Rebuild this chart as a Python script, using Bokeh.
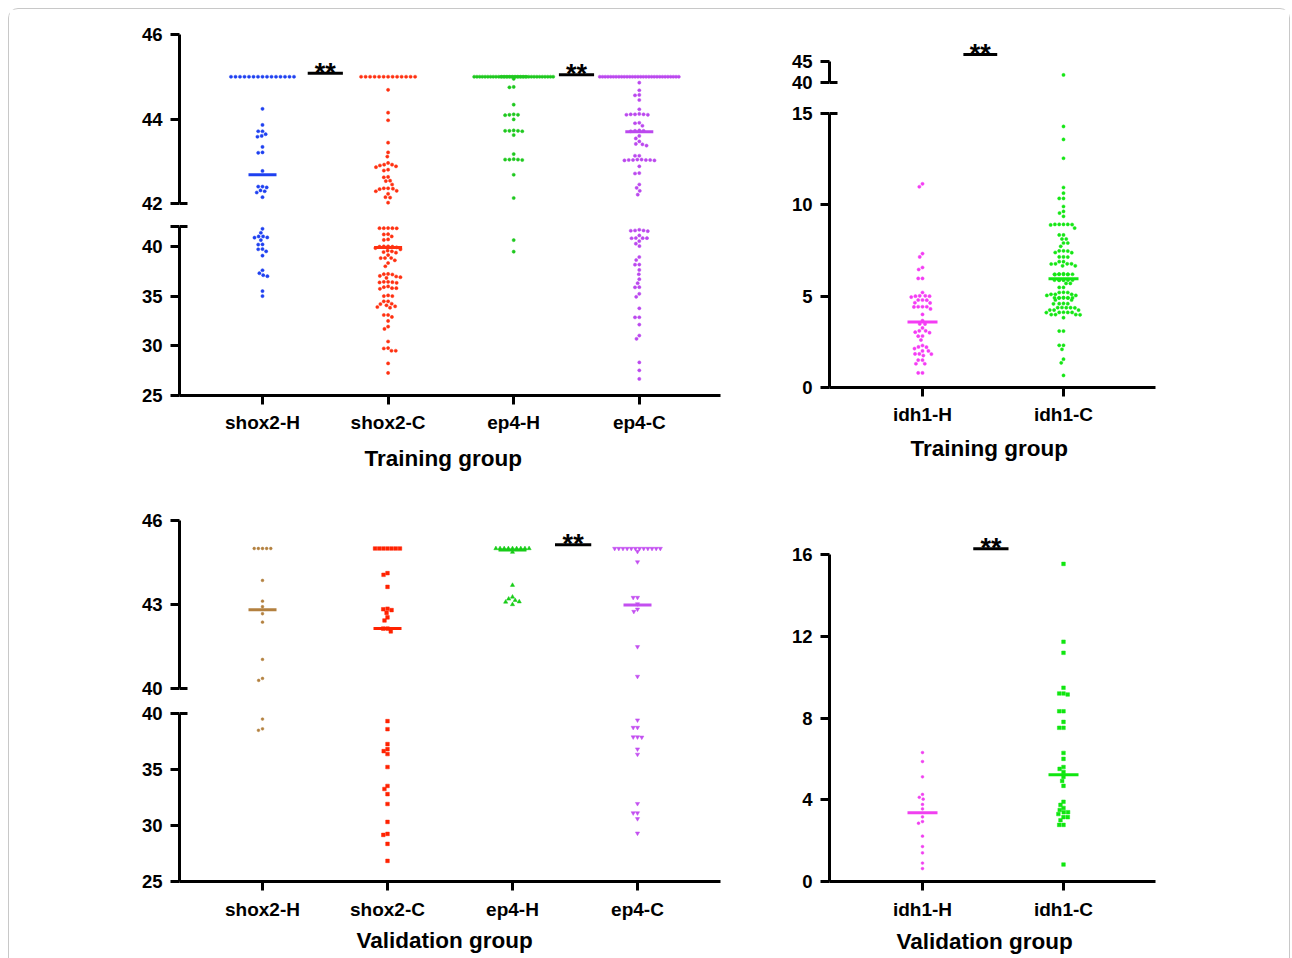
import math
from collections import Counter
from bokeh.plotting import figure
from bokeh.models import Range1d, LinearAxis, FixedTicker, Title
from bokeh.layouts import column, row
from bokeh.embed import file_html
from bokeh.resources import INLINE
from bokeh.core.properties import value

FONT = "Liberation Sans"

# ---------------- data ----------------
TRAIN_CATS = ["shox2-H", "shox2-C", "ep4-H", "ep4-C"]
IDH_CATS = ["idh1-H", "idh1-C"]
TRAIN_TITLE = "Training group"
VALID_TITLE = "Validation group"

train_shox2_h = [45, 45, 45, 45, 45, 45, 45, 45, 45, 45, 45, 45, 45, 45, 45,
                 44.24, 43.86, 43.71, 43.71, 43.64, 43.60, 43.58, 43.34, 43.21, 43.20,
                 42.77, 42.40, 42.40, 42.38, 42.31, 42.29, 42.26, 42.15,
                 41.77, 41.37, 41.00, 41.00, 40.90, 40.88, 40.63, 40.20, 40.18, 39.73,
                 39.71, 39.50, 39.07, 37.60, 37.30, 37.10, 37.00, 35.50, 35.00]
train_shox2_c = [45, 45, 45, 45, 45, 45, 45, 45, 45, 45, 45, 45, 45,
                 44.69, 44.15, 43.97, 43.44, 43.21, 43.11, 42.96, 42.92, 42.92, 42.90,
                 42.88, 42.86, 42.80, 42.78, 42.63, 42.62, 42.54, 42.53, 42.45, 42.36,
                 42.36, 42.35, 42.34, 42.30, 42.29, 42.23, 42.15, 42.14, 42.02,
                 41.83, 41.83, 41.82, 41.83, 41.84, 41.20, 41.23, 41.00, 40.70, 40.65,
                 40.00, 39.97, 40.00, 39.90, 39.97, 39.83, 39.70, 39.50, 39.37, 39.43,
                 39.57, 39.13, 38.83, 38.83, 38.82, 38.60, 38.33, 38.00,
                 37.20, 37.23, 37.03, 37.17, 36.97, 36.83, 36.90, 36.43, 36.33, 36.37,
                 36.43, 36.40, 35.90, 35.73, 35.97, 35.80, 35.80, 35.00, 35.00, 35.07,
                 34.23, 34.07, 34.47, 34.47, 34.20, 33.90, 33.83, 33.97, 33.10, 33.10,
                 32.90, 32.50, 31.93, 31.70, 30.43, 29.73, 29.50, 29.50, 29.77, 28.23, 27.27]
train_ep4_h = [45, 45, 45, 45, 45, 45, 45, 45, 45, 45, 45, 45, 45, 45, 45,
               45, 45, 45, 45, 45, 45, 45, 45, 45, 45, 45, 45, 45, 45, 45,
               44.95, 44.76, 44.75, 44.34, 44.10, 44.10, 44.09, 44.11, 43.99, 43.72,
               43.72, 43.71, 43.73, 43.72, 43.62, 43.17, 43.04, 43.04, 43.05, 43.03,
               43.04, 42.68, 42.13, 40.63, 39.47]
train_ep4_c = [45, 45, 45, 45, 45, 45, 45, 45, 45, 45, 45, 45, 45, 45, 45,
               45, 45, 45, 45, 45, 45, 45, 45, 45, 45, 45, 45, 45, 45, 45,
               44.86, 44.68, 44.57, 44.56, 44.45, 44.23, 44.11, 44.11, 44.10, 44.12,
               44.11, 44.10, 43.91, 43.90, 43.84, 43.72, 43.72, 43.71, 43.73, 43.60,
               43.54, 43.47, 43.41, 43.40, 43.37, 43.13, 43.13, 43.03, 43.03, 43.02,
               43.04, 43.03, 43.02, 43.03, 43.04, 42.88, 42.72, 42.71, 42.45, 42.37,
               42.30, 42.21,
               41.67, 41.60, 41.57, 41.60, 41.53, 41.10, 40.83, 40.83, 40.82, 40.84,
               40.53, 40.27, 40.03, 38.93, 38.63, 38.17, 38.16, 37.63, 37.20, 36.70,
               36.30, 35.90, 35.88, 35.23, 34.93, 33.77, 32.87, 32.86, 32.13, 31.03,
               30.70, 28.33, 27.53, 26.67]
train_idh1_h = [11.15, 10.99, 7.33, 7.15, 6.57, 6.46, 5.97, 5.97, 5.20, 5.02, 5.02,
                5.00, 5.00, 4.95, 4.79, 4.79, 4.78, 4.64, 4.63, 4.42, 4.42, 4.41, 4.42,
                4.30, 4.00, 3.66, 3.48, 3.47, 3.26, 3.10, 3.10, 3.03, 3.00, 2.82, 2.81,
                2.60, 2.30, 2.22, 2.21, 2.13, 2.00, 2.00, 1.84, 1.84, 1.83, 1.75, 1.50,
                1.50, 1.30, 1.30, 0.80, 0.80]
train_idh1_c = [41.80, 14.29, 13.58, 12.55, 10.95, 10.64, 10.35, 10.35, 9.91, 9.64,
                9.55, 9.37, 8.93, 8.93, 8.93, 8.92, 8.93, 8.90, 8.73, 8.35, 8.35, 8.13,
                8.13, 7.91, 7.91, 7.73, 7.48, 7.48, 7.47, 7.39, 7.38, 7.15, 7.15, 7.14,
                6.89, 6.89, 6.77, 6.77, 6.76, 6.77, 6.66, 6.66, 6.20, 6.20, 6.21, 6.20,
                6.19, 6.20, 6.20, 6.18, 6.22, 5.88, 5.88, 5.87, 5.88, 5.89, 5.88, 5.88,
                5.70, 5.70, 5.48, 5.48, 5.20, 5.20, 5.21, 5.10, 5.10, 5.10, 5.04, 5.04,
                4.91, 4.91, 4.90, 4.91, 4.92, 4.91, 4.90, 4.91, 4.79, 4.79, 4.59, 4.59,
                4.60, 4.58, 4.37, 4.37, 4.36, 4.37, 4.38, 4.24, 4.24, 4.24, 4.11, 4.11,
                4.10, 4.11, 4.12, 3.99, 3.99, 3.98, 3.99, 3.82, 3.09, 3.09, 2.31, 2.31,
                2.09, 1.55, 1.35, 0.66]
val_shox2_h = [45, 45, 45, 45, 45, 43.86, 43.12, 42.92, 42.67, 42.37, 41.04, 40.36,
               40.29, 39.50, 38.63, 38.50]
val_shox2_c = [45, 45, 45, 45, 45, 45, 45, 44.12, 44.06, 43.63, 42.85, 42.83, 42.80,
               42.70, 42.54, 42.43, 42.14, 42.14, 42.04, 39.32, 38.60, 37.27, 36.82,
               36.64, 36.38, 35.22, 33.53, 33.26, 32.80, 31.92, 30.32, 29.25, 29.16,
               28.36, 26.84]
val_ep4_h = [45, 45, 45, 45, 45, 45, 45, 45, 45, 44.87, 43.69, 43.27, 43.20, 43.15,
             43.10, 43.09, 43.00]
val_ep4_c = [45, 45, 45, 45, 45, 45, 45, 45, 45, 45, 45, 45, 44.89, 44.52, 43.25,
             43.25, 43.02, 42.83, 42.75, 41.49, 40.43, 39.41, 38.75, 38.75, 37.90,
             37.90, 37.88, 36.82, 36.35, 31.95, 31.12, 31.12, 30.60, 29.31]
val_idh1_h = [6.31, 5.87, 5.12, 4.26, 4.12, 4.03, 3.77, 3.55, 3.16, 2.93, 2.85, 2.22,
              1.71, 1.40, 0.90, 0.63]
val_idh1_c = [15.54, 11.73, 11.19, 9.48, 9.20, 9.20, 9.15, 8.33, 8.33, 7.81, 7.52,
              7.52, 6.29, 6.00, 5.60, 5.51, 5.36, 5.12, 4.92, 4.68, 3.90, 3.75, 3.60,
              3.50, 3.39, 3.39, 3.30, 3.15, 3.15, 3.00, 2.77, 2.77, 0.83]

# centre lines (median) per column
train_center = [42.68, 39.90, 45.00, 43.70]
idh_train_center = [3.58, 5.95]
val_center = [42.81, 42.14, 44.95, 42.98]
idh_val_center = [3.36, 5.22]

# significance bars: (x from, x to, y)
train_sig = [(1.36, 1.64, 45.08), (3.36, 3.64, 45.05)]
idh_train_sig = [(1.29, 1.53, 46.67)]
val_sig = [(3.34, 3.63, 45.13)]
idh_val_sig = [(1.36, 1.61, 16.28)]
SIG_TEXT = "**"

# ---------------- helpers ----------------
AX = dict(axis_line_width=3, axis_line_color="black", major_tick_line_width=3,
          major_tick_line_color="black", major_tick_out=9, major_tick_in=0,
          minor_tick_line_color=None, major_label_text_font=FONT,
          major_label_text_font_style="bold", major_label_text_color="black")


def swarm(py, d, row_sp, row_max):
    n = len(py)
    xs = [None] * n
    for v, c in Counter(py).items():
        if c >= 5:
            idx = [i for i in range(n) if py[i] == v]
            s = min(row_sp, row_max / (c - 1))
            for k, i in enumerate(idx):
                xs[i] = (k - (c - 1) / 2) * s
    placed = []
    for i in sorted((i for i in range(n) if xs[i] is None), key=lambda i: py[i]):
        y = py[i]
        near = [(x, yy) for x, yy in placed if abs(yy - y) < d]
        cands = [0.0]
        for x, yy in near:
            dx = math.sqrt(d * d - (yy - y) ** 2)
            cands += [x + dx, x - dx]
        cands.sort(key=lambda c: (abs(c), c))
        for c in cands:
            if all((c - x) ** 2 + (y - yy) ** 2 >= d * d - 1e-6 for x, yy in near):
                xs[i] = c
                placed.append((c, y))
                break
    return xs


def build_panel(cfg):
    segs = cfg["segs"]
    n = len(segs)
    xstep = cfg["x_step"]
    xa0 = 1 - (cfg["x_first"] - cfg["f_left"]) / xstep
    xa1 = xa0 + (cfg["f_right"] - cfg["f_left"]) / xstep
    xr = Range1d(xa0, xa1)
    frames = [(s["y_hi"] - s["pt"], s["y_lo"] + s["pb"]) for s in segs]
    cuts = [cfg["top"]] + [round((frames[i][1] + frames[i + 1][0]) / 2)
                           for i in range(n - 1)] + [cfg["bottom"]]
    for s in segs:
        s["pxu"] = (s["y_lo"] - s["y_hi"]) / (s["hi"] - s["lo"])

    def seg_index(v):
        for i, s in enumerate(segs):
            if v >= s["lo"]:
                return i
        return n - 1

    def page_y(v):
        s = segs[seg_index(v)]
        return s["y_hi"] + (s["hi"] - v) * s["pxu"]

    figs = []
    for i, s in enumerate(segs):
        ft, fb = frames[i]
        pxu = s["pxu"]
        p = figure(width=cfg["right"] - cfg["left"], height=cuts[i + 1] - cuts[i],
                   x_range=xr, y_range=Range1d(s["lo"] - s["pb"] / pxu, s["hi"] + s["pt"] / pxu),
                   x_axis_type=None, y_axis_type=None, toolbar_location=None,
                   output_backend="svg",
                   min_border_left=cfg["f_left"] - cfg["left"],
                   min_border_right=cfg["right"] - cfg["f_right"],
                   min_border_top=ft - cuts[i], min_border_bottom=cuts[i + 1] - fb)
        p.outline_line_color = None
        ax = LinearAxis(bounds=(s["lo"], s["hi"]), ticker=FixedTicker(ticks=s["ticks"]),
                        major_label_overrides={t: "" for t in s.get("blank", [])},
                        major_label_text_font_size="18.5px", major_label_standoff=8, **AX)
        p.add_layout(ax, "left")
        for c in s.get("caps", []):
            p.segment(x0=[xa0], x1=[xa0 + 8 / xstep], y0=[c], y1=[c],
                      line_width=3, line_color="black")
        if i == n - 1:
            cats = cfg["cats"]
            xa = LinearAxis(ticker=FixedTicker(ticks=list(range(1, len(cats) + 1))),
                            major_label_overrides={k + 1: c for k, c in enumerate(cats)},
                            major_label_text_font_size="19px",
                            major_label_standoff=cfg["label_standoff"], **AX)
            p.add_layout(xa, "below")
            p.add_layout(Title(text=cfg["title"], align="left", offset=cfg["title_dx"],
                               standoff=cfg["title_standoff"], text_font=FONT,
                               text_font_style="bold", text_font_size="22.5px",
                               text_color="black"), "below")
        figs.append(p)

    for k, g in enumerate(cfg["groups"]):
        vals = g["vals"]
        py = [page_y(v) for v in vals]
        ox = swarm(py, cfg["d"], cfg["row_sp"], 79)
        for i, s in enumerate(segs):
            idx = [j for j, v in enumerate(vals) if seg_index(v) == i]
            if not idx:
                continue
            figs[i].scatter(x=[k + 1 + ox[j] / xstep for j in idx], y=[vals[j] for j in idx],
                            marker=g["marker"], size=g["size"], fill_color=g["color"],
                            line_color=g["color"], line_width=0.5)
        m = cfg["centers"][k]
        hw = cfg["bar_hw"] / xstep
        figs[seg_index(m)].segment(x0=[k + 1 - hw], x1=[k + 1 + hw], y0=[m], y1=[m],
                                   line_width=3, line_color=g["color"])
    top = segs[0]
    for (a, b, y) in cfg["sigs"]:
        figs[0].segment(x0=[a], x1=[b], y0=[y], y1=[y], line_width=3, line_color="black")
        figs[0].text(x=[(a + b) / 2], y=[y + 0.5 / top["pxu"]], text=[SIG_TEXT],
                     text_align="center", text_baseline="middle",
                     text_font=value(FONT), text_font_style="bold",
                     text_font_size="27px", text_color="black")
    return column(*figs) if len(figs) > 1 else figs[0]


BLUE, RED, GREEN, PURPLE = "#1e40f0", "#ff3010", "#1ec81e", "#bb48ee"
MAGENTA, LIME, BROWN = "#f43cf4", "#14e614", "#b3803f"

tl = build_panel(dict(
    top=0, bottom=481, left=0, right=730, f_left=170, f_right=711,
    x_first=253, x_step=125.6, d=4.3, row_sp=4.5, bar_hw=14,
    label_standoff=7, title_dx=185, title_standoff=16,
    cats=TRAIN_CATS, title=TRAIN_TITLE, centers=train_center, sigs=train_sig,
    segs=[dict(lo=42, hi=46, y_lo=194, y_hi=25, pt=2, pb=4, ticks=[42, 44, 46], caps=[42]),
          dict(lo=25, hi=42, y_lo=386, y_hi=217, pt=4, pb=0, ticks=[25, 30, 35, 40, 42],
               blank=[42], caps=[42])],
    groups=[dict(vals=train_shox2_h, color=BLUE, marker="circle", size=3.2),
            dict(vals=train_shox2_c, color=RED, marker="circle", size=3.2),
            dict(vals=train_ep4_h, color=GREEN, marker="circle", size=3.2),
            dict(vals=train_ep4_c, color=PURPLE, marker="circle", size=3.2)]))

tr = build_panel(dict(
    top=0, bottom=481, left=0, right=550, f_left=90, f_right=416,
    x_first=183, x_step=141, d=4.3, row_sp=4.5, bar_hw=15,
    label_standoff=7, title_dx=81, title_standoff=13,
    cats=IDH_CATS, title=TRAIN_TITLE, centers=idh_train_center, sigs=idh_train_sig,
    segs=[dict(lo=40, hi=45, y_lo=73, y_hi=52, pt=23, pb=4, ticks=[40, 45], caps=[40]),
          dict(lo=0, hi=15, y_lo=378, y_hi=104, pt=4, pb=0, ticks=[0, 5, 10, 15], caps=[15])],
    groups=[dict(vals=train_idh1_h, color=MAGENTA, marker="circle", size=3.2),
            dict(vals=train_idh1_c, color=LIME, marker="circle", size=3.2)]))

bl = build_panel(dict(
    top=0, bottom=468, left=0, right=730, f_left=170, f_right=711,
    x_first=253, x_step=125, d=4.3, row_sp=4.15, bar_hw=14,
    label_standoff=8, title_dx=177, title_standoff=7,
    cats=TRAIN_CATS, title=VALID_TITLE, centers=val_center, sigs=val_sig,
    segs=[dict(lo=40, hi=46, y_lo=198, y_hi=30, pt=2, pb=4, ticks=[40, 43, 46], caps=[40]),
          dict(lo=25, hi=40, y_lo=391, y_hi=223, pt=4, pb=0, ticks=[25, 30, 35, 40], caps=[40])],
    groups=[dict(vals=val_shox2_h, color=BROWN, marker="circle", size=2.8),
            dict(vals=val_shox2_c, color="#ff2200", marker="square", size=3.6),
            dict(vals=val_ep4_h, color="#17cc17", marker="triangle", size=4.2),
            dict(vals=val_ep4_c, color="#c34ff0", marker="inverted_triangle", size=4.2)]))

br = build_panel(dict(
    top=0, bottom=468, left=0, right=550, f_left=90, f_right=416,
    x_first=183, x_step=141, d=4.3, row_sp=4.15, bar_hw=15,
    label_standoff=8, title_dx=67, title_standoff=8,
    cats=IDH_CATS, title=VALID_TITLE, centers=idh_val_center, sigs=idh_val_sig,
    segs=[dict(lo=0, hi=16, y_lo=391, y_hi=64, pt=36, pb=0, ticks=[0, 4, 8, 12, 16])],
    groups=[dict(vals=val_idh1_h, color="#f040f0", marker="circle", size=2.8),
            dict(vals=val_idh1_c, color="#10e610", marker="square", size=3.6)]))

layout = column(row(tl, tr), row(bl, br),
                styles={"margin-left": "8px", "margin-top": "8px",
                        "border": "1px solid #c8c8c8", "border-bottom": "none",
                        "border-radius": "10px 10px 0 0"})

open("out.html", "w").write(file_html(layout, INLINE))
